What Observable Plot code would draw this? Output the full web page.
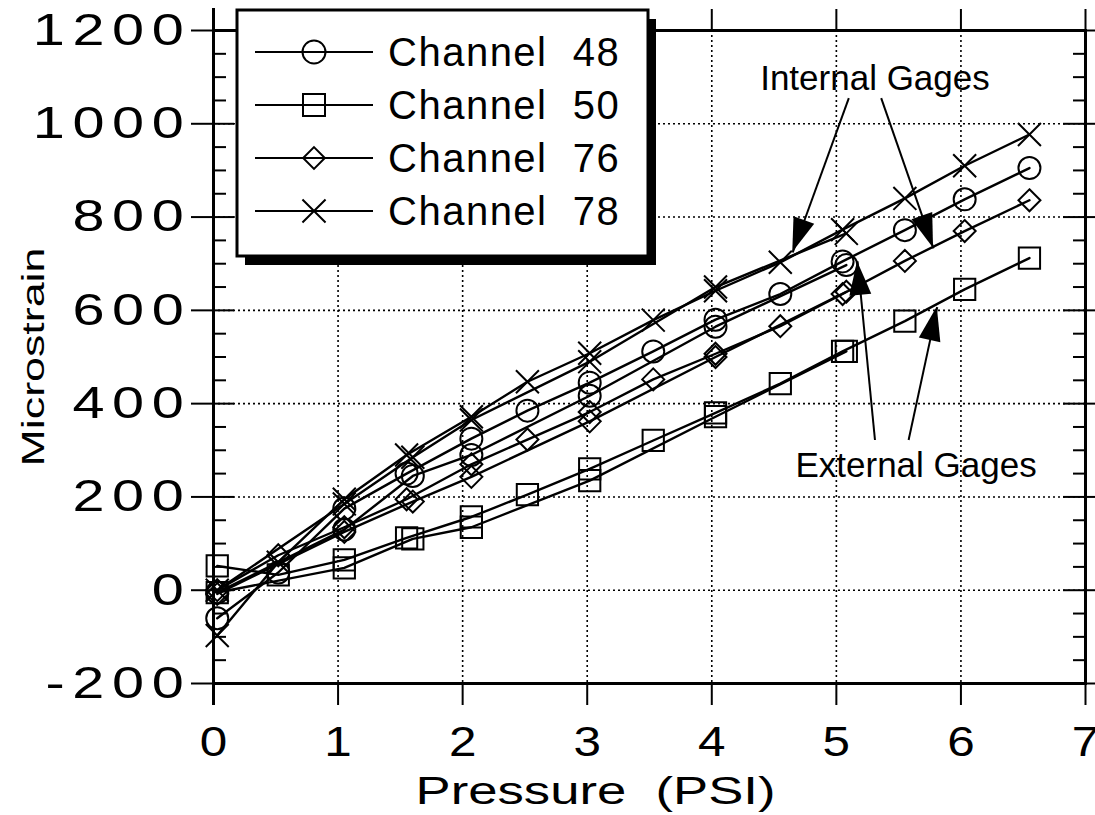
<!DOCTYPE html>
<html><head><meta charset="utf-8">
<script src="https://cdn.jsdelivr.net/npm/d3@7"></script>
<script src="https://cdn.jsdelivr.net/npm/@observablehq/plot@0.6"></script>
<style>
html,body{margin:0;padding:0;background:#fff;}
#chart{position:relative;width:1095px;height:815px;}
svg text{white-space:pre;}
g[aria-label="y-axis tick label"] text{letter-spacing:6px;}
</style></head><body><div id="chart"></div>
<script>
// ---- data ----
const pressureA = [0.03, 0.52, 1.05, 1.55, 2.07, 2.52, 3.02, 3.53, 4.03, 4.55, 5.05, 5.55, 6.03, 6.55];
const pressureB = [0.03, 1.05, 1.6, 2.07, 3.02, 4.03, 5.08];

const ch48A = [-60, 38, 175, 250, 325, 385, 445, 512, 580, 635, 705, 772, 838, 905];
const ch48B = [-5, 130, 245, 290, 417, 565, 697];
const ch50A = [52, 33, 65, 112, 157, 205, 260, 321, 380, 443, 512, 577, 645, 712];
const ch50B = [-5, 48, 110, 135, 235, 372, 512];
const ch76A = [0, 75, 135, 195, 270, 323, 382, 452, 507, 566, 635, 706, 770, 836];
const ch76B = [-8, 125, 190, 243, 362, 500, 640];
const ch78A = [-97, 60, 195, 290, 372, 447, 508, 579, 642, 703, 773, 840, 910, 977];
const ch78B = [0, 185, 285, 365, 490, 650, 765];

const channels = ["Channel  48", "Channel  50", "Channel  76", "Channel  78"];
const symbols = ["circle", "square", "diamond2", "times"];
const symbolR = [11, 12, 9.9, 10.5];

const xTicks = [0, 1, 2, 3, 4, 5, 6, 7];
const xGrid = [1, 2, 3, 4, 5, 6];
const yMajor = [-200, 0, 200, 400, 600, 800, 1000, 1200];
const yGrid = [0, 200, 400, 600, 800, 1000];
const yMinor = [-150, -100, -50, 50, 100, 150, 250, 300, 350, 450, 500, 550, 650, 700, 750, 850, 900, 950, 1050, 1100, 1150];

const xTitle = "Pressure  (PSI)";
const yTitle = "Microstrain";

const noteText = ["Internal Gages", "External Gages"];
const noteX = [5.31, 5.64];
const noteY = [1097, 267];
const arrowX1 = [5.10, 5.36, 5.31, 5.58];
const arrowY1 = [1055, 1055, 322, 322];
const arrowX2 = [4.65, 5.78, 5.17, 5.81];
const arrowY2 = [724, 733, 705, 607];

// ---- tables built from the arrays ----
const series = [
  [channels[0], "A", pressureA, ch48A], [channels[0], "B", pressureB, ch48B],
  [channels[1], "A", pressureA, ch50A], [channels[1], "B", pressureB, ch50B],
  [channels[2], "A", pressureA, ch76A], [channels[2], "B", pressureB, ch76B],
  [channels[3], "A", pressureA, ch78A], [channels[3], "B", pressureB, ch78B]
];
const rows = series.flatMap(([ch, pass, xs, ys]) =>
  xs.map((p, i) => ({channel: ch, series: ch + pass, pressure: p, strain: ys[i]})));
const notes = noteText.map((t, i) => ({text: t, x: noteX[i], y: noteY[i]}));
const arrows = arrowX1.map((d, i) => ({x1: d, y1: arrowY1[i], x2: arrowX2[i], y2: arrowY2[i]}));

const blank = () => "";
const innerW = 1095 - 213 - 10;

const dots = channels.map((ch, i) => Plot.dot(rows.filter(r => r.channel === ch), {
  x: "pressure", y: "strain", symbol: () => symbols[i], r: symbolR[i],
  stroke: "black", strokeWidth: 2, fill: "none"
}));

const chart = Plot.plot({
  width: 1095, height: 815,
  marginLeft: 213, marginRight: 10, marginTop: 30, marginBottom: 132,
  style: {fontFamily: "'Liberation Sans', Arial, Helvetica, sans-serif", background: "white", color: "black", overflow: "visible"},
  x: {domain: [0, 7]},
  y: {domain: [-200, 1200]},
  symbol: {type: "identity"},
  marks: [
    Plot.gridX({ticks: xGrid, stroke: "black", strokeOpacity: 1, strokeWidth: 1.6, strokeDasharray: "2,3"}),
    Plot.gridY({ticks: yGrid, stroke: "black", strokeOpacity: 1, strokeWidth: 1.6, strokeDasharray: "2,3"}),
    Plot.line(rows, {x: "pressure", y: "strain", z: "series", stroke: "black", strokeWidth: 2.4}),
    ...dots,
    Plot.frame({stroke: "black", strokeWidth: 3}),
    Plot.ruleX([0], {insetTop: -22, insetBottom: -22, stroke: "black", strokeWidth: 3}),
    Plot.axisX({anchor: "bottom", ticks: xTicks, tickSize: 22, tickPadding: 20, fontSize: 43, tickFormat: d => String(d), label: null, strokeWidth: 2}),
    Plot.axisX({anchor: "top", ticks: xTicks, tickSize: 22, tickFormat: blank, label: null, strokeWidth: 2}),
    Plot.axisY({anchor: "left", ticks: yMajor, tickSize: 22, tickPadding: 0, fontSize: 45, tickFormat: d => String(d), label: null, strokeWidth: 2}),
    Plot.axisY({anchor: "right", ticks: yMajor, tickSize: 12, tickFormat: blank, label: null, strokeWidth: 2}),
    Plot.axisY({anchor: "right", dx: -innerW, ticks: yMajor, tickSize: 20, tickFormat: blank, label: null, strokeWidth: 2}),
    Plot.axisY({anchor: "right", dx: -innerW, ticks: yMinor, tickSize: 12, tickFormat: blank, label: null, strokeWidth: 2}),
    Plot.axisY({anchor: "left", dx: innerW, ticks: yMajor, tickSize: 22, tickFormat: blank, label: null, strokeWidth: 2}),
    Plot.axisY({anchor: "left", dx: innerW, ticks: yMinor, tickSize: 12, tickFormat: blank, label: null, strokeWidth: 2}),
    Plot.text([yTitle], {frameAnchor: "left", dx: -180, rotate: -90, textAnchor: "middle", lineAnchor: "middle", text: d => d, fontSize: 32, fill: "black"}),
    Plot.text([xTitle], {frameAnchor: "bottom", dx: -54, dy: 108, textAnchor: "middle", lineAnchor: "middle", text: d => d, fontSize: 39, fill: "black"}),
    Plot.link(arrows, {x1: "x1", y1: "y1", x2: "x2", y2: "y2", stroke: "black", strokeWidth: 2}),
    Plot.text(notes, {x: "x", y: "y", text: "text", fontSize: 35, fill: "black"})
  ]
});
document.getElementById("chart").appendChild(chart);
const svg = d3.select(chart);

// the reference's axis lettering is a horizontally wide face: stretch those texts about their anchor
function widen(el, k, anchor) {
  const b = el.getBBox();
  const ax = anchor === "end" ? b.x + b.width : b.x + b.width / 2;
  const t = el.getAttribute("transform") || "";
  el.setAttribute("transform", `${t} translate(${ax},0) scale(${k},1) translate(${-ax},0)`);
}
svg.selectAll('g[aria-label="y-axis tick label"] text').each(function() { widen(this, 1.28, "end"); });
svg.selectAll('g[aria-label="x-axis tick label"] text').each(function() { widen(this, 1.15, "middle"); });
svg.selectAll("text").filter(function() { return this.textContent === yTitle; }).each(function() { widen(this, 1.4, "middle"); });
svg.selectAll("text").filter(function() { return this.textContent === xTitle; }).each(function() { widen(this, 1.35, "middle"); });

// ---- filled arrow heads, positioned through Plot's scales ----
const sx = chart.scale("x"), sy = chart.scale("y");
const heads = svg.append("g");
for (const a of arrows) {
  const x1 = sx.apply(a.x1), y1 = sy.apply(a.y1), x2 = sx.apply(a.x2), y2 = sy.apply(a.y2);
  const ang = Math.atan2(y2 - y1, x2 - x1), L = 34, W = 11;
  const bx = x2 - L * Math.cos(ang), by = y2 - L * Math.sin(ang);
  const px = -Math.sin(ang) * W, py = Math.cos(ang) * W;
  heads.append("path").attr("d", `M${x2},${y2}L${bx + px},${by + py}L${bx - px},${by - py}Z`).attr("fill", "black");
}

// ---- legend box (drawn over the plot, like the reference) ----
const lg = svg.append("g");
lg.append("rect").attr("x", 245).attr("y", 19).attr("width", 411).attr("height", 246).attr("fill", "black");
lg.append("rect").attr("x", 237).attr("y", 10).attr("width", 411).attr("height", 246)
  .attr("fill", "white").attr("stroke", "black").attr("stroke-width", 3);
const d3sym = {circle: d3.symbolCircle, square: d3.symbolSquare, diamond2: d3.symbolDiamond2, times: d3.symbolTimes};
const symSize = {circle: Math.PI * 11.5 * 11.5, square: 484, diamond2: 300, times: 350};
channels.forEach((ch, i) => {
  const y = 52 + i * 53;
  lg.append("line").attr("x1", 255).attr("x2", 373).attr("y1", y).attr("y2", y).attr("stroke", "black").attr("stroke-width", 1.8);
  lg.append("path").attr("transform", `translate(314,${y})`)
    .attr("d", d3.symbol(d3sym[symbols[i]], symSize[symbols[i]])())
    .attr("fill", "none").attr("stroke", "black").attr("stroke-width", 2);
  lg.append("text").attr("x", 388).attr("y", y).attr("dy", "0.36em").attr("font-size", 40)
    .attr("text-anchor", "start").attr("letter-spacing", "1.5px").attr("fill", "black").text(ch);
});
</script></body></html>
